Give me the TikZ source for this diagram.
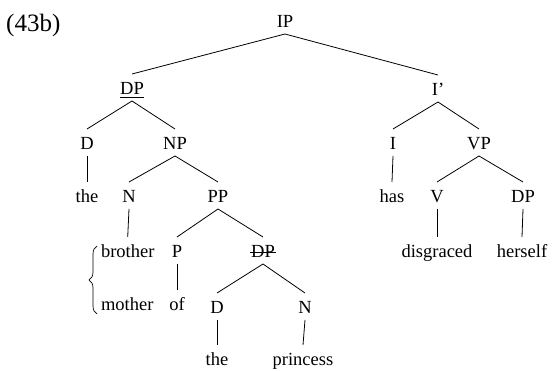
\documentclass[tikz,border=0pt]{standalone}
\usepackage{fontspec}
\setmainfont{Liberation Serif}
\usetikzlibrary{calc,decorations.pathreplacing}

\tikzset{
  lbl/.style={anchor=base, inner xsep=0pt, inner ysep=0pt, outer sep=0pt,
              text height=21pt, text depth=6pt,
              font=\fontsize{18.5}{22}\selectfont},
  leaf/.style={lbl, text depth=0pt},
  branch/.style={line width=0.8pt},
}

\begin{document}
\begin{tikzpicture}[x=1pt,y=-1pt]
  \useasboundingbox (0,0) rectangle (552,371);

  % example number
  \node[anchor=base west, inner sep=0pt, font=\fontsize{25}{29}\selectfont] (ex) at (6,32) {(43b)};

  % root and first split
  \node[lbl] (IP)   at (285,28) {IP};
  \node[lbl] (DP)   at (132,95) {DP};
  \node[lbl] (Ib)   at (438,96) {I’};

  % subject DP
  \node[lbl] (D1)   at (87,150)  {D};
  \node[lbl] (NP)   at (175,150) {NP};
  \node[lbl] (the1) at (87,203)  {the};
  \node[lbl] (N1)   at (129,203) {N};
  \node[lbl] (PP)   at (218,203) {PP};
  \node[lbl, anchor=base west] (brother) at (101,258) {brother};
  \node[lbl, anchor=base west] (mother)  at (101,311) {mother};
  \node[lbl] (P)    at (177,258) {P};
  \node[lbl] (of)   at (177,311) {of};
  \node[lbl] (DPs)  at (263,258) {DP};
  \node[lbl] (D2)   at (217,314) {D};
  \node[lbl] (N2)   at (305,314) {N};
  \node[leaf] (the2) at (217,366) {the};
  \node[leaf] (princess) at (303,366) {princess};

  % predicate
  \node[lbl] (I)    at (393,150) {I};
  \node[lbl] (VP)   at (479,150) {VP};
  \node[lbl] (has)  at (392,203) {has};
  \node[lbl] (V)    at (437,203) {V};
  \node[lbl] (DP3)  at (523,203) {DP};
  \node[lbl] (disgraced) at (437,258) {disgraced};
  \node[lbl] (herself)   at (522,258) {herself};

  % underlined and struck-out DPs
  \draw[line width=0.7pt] ($(DP.base west)+(0,2.5)$) -- ($(DP.base east)+(0,2.5)$);
  \draw[line width=0.7pt] ($(DPs.base west)+(-1,-6)$) -- ($(DPs.base east)+(1,-6)$);

  % branches
  \foreach \a/\b in {IP/DP, IP/Ib, DP/D1, DP/NP, D1/the1, NP/N1, NP/PP,
                     N1/brother, PP/P, PP/DPs, P/of, DPs/D2, DPs/N2,
                     D2/the2, N2/princess, Ib/I, Ib/VP, I/has, VP/V, VP/DP3,
                     V/disgraced, DP3/herself}
    \draw[branch] (\a.south) -- (\b.north);

  % alternatives for the head noun
  \draw[line width=0.7pt, decorate, decoration={brace, amplitude=8pt, aspect=0.5}]
    ($(mother.base west)+(-4,3)$) -- ($(brother.base west)+(-4,-12)$);
\end{tikzpicture}
\end{document}
